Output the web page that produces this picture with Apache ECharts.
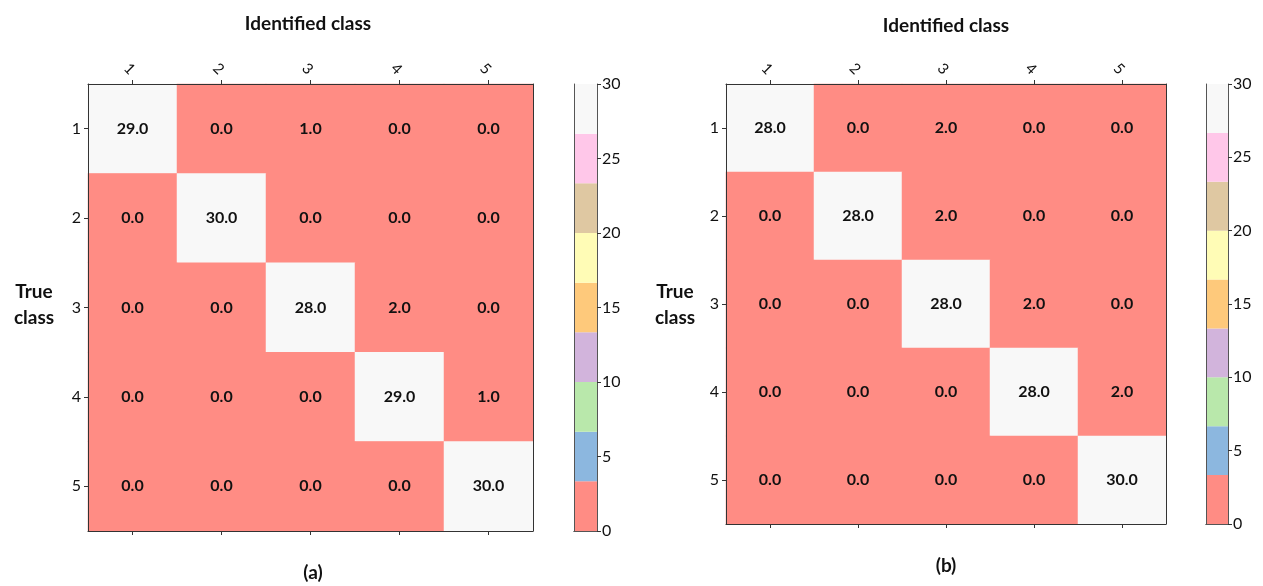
<!DOCTYPE html>
<html>
<head>
<meta charset="utf-8">
<script src="https://cdn.jsdelivr.net/npm/echarts@6/dist/echarts.min.js"></script>
<style>html,body{margin:0;padding:0;background:#fff}#c{width:1263px;height:586px}</style>
</head>
<body>
<div id="c"></div>
<script>
const categories = ['1', '2', '3', '4', '5'];
const matrixA = [
  [29, 0, 1, 0, 0],
  [0, 30, 0, 0, 0],
  [0, 0, 28, 2, 0],
  [0, 0, 0, 29, 1],
  [0, 0, 0, 0, 30]
];
const matrixB = [
  [28, 0, 2, 0, 0],
  [0, 28, 2, 0, 0],
  [0, 0, 28, 2, 0],
  [0, 0, 0, 28, 2],
  [0, 0, 0, 0, 30]
];
const colorMin = 0;
const colorMax = 30;
const colorbarTicks = [0, 5, 10, 15, 20, 25, 30];
const paletteColors = ['#ff8c84', '#8cb7df', '#b9e8ab', '#d2b4dc', '#fec97b', '#fffcb6', '#dfc8a2', '#ffc7e9', '#f8f8f8'];
const axisTitleX = 'Identified class';
const axisTitleY = ['True', 'class'];
const panelLabels = ['(a)', '(b)'];

const FONT = 'Lato, "Open Sans", sans-serif';
const step = (colorMax - colorMin) / paletteColors.length;
const pieces = paletteColors.map((c, i) => {
  const p = { gte: colorMin + i * step, color: c };
  if (i < paletteColors.length - 1) p.lt = colorMin + (i + 1) * step; else p.lte = colorMax;
  return p;
});

function toCells(m) {
  const out = [];
  m.forEach((row, r) => row.forEach((v, c) => out.push([c, r, v])));
  return out;
}

const panels = [
  { grid: { left: 88, top: 84, width: 445, height: 447 }, cb: { left: 574, top: 84, width: 23, height: 447 }, data: matrixA, cx: 308, cy: 24, tx: 34, labX: 313, labY: 573 },
  { grid: { left: 726, top: 84, width: 440, height: 440 }, cb: { left: 1206, top: 84, width: 22, height: 440 }, data: matrixB, cx: 946, cy: 26, tx: 675, labX: 946, labY: 566 }
];

const grids = [], xAxes = [], yAxes = [], series = [], graphics = [], heatIdx = [];
const lineStyle = { color: '#333', width: 1 };

panels.forEach((p, pi) => {
  const g = grids.length;
  grids.push(Object.assign({ show: true, backgroundColor: paletteColors[0], borderWidth: 0 }, p.grid));
  const xTop = xAxes.length;
  xAxes.push({ type: 'category', gridIndex: g, data: categories, position: 'top', z: 5,
    axisLine: { show: true, lineStyle }, axisTick: { show: true, alignWithLabel: true, length: 4, lineStyle },
    axisLabel: { rotate: 45, margin: 12, fontSize: 15, color: '#111', fontFamily: FONT }, splitLine: { show: false } });
  xAxes.push({ type: 'category', gridIndex: g, data: categories, position: 'bottom', z: 5,
    axisLine: { show: true, lineStyle }, axisTick: { show: true, alignWithLabel: true, length: 4, lineStyle },
    axisLabel: { show: false }, splitLine: { show: false } });
  const yL = yAxes.length;
  yAxes.push({ type: 'category', gridIndex: g, data: categories, inverse: true, position: 'left', z: 5,
    axisLine: { show: true, lineStyle }, axisTick: { show: true, alignWithLabel: true, length: 4, lineStyle },
    axisLabel: { margin: 7, fontSize: 16, color: '#111', fontFamily: FONT }, splitLine: { show: false } });
  yAxes.push({ type: 'category', gridIndex: g, data: categories, inverse: true, position: 'right', z: 5,
    axisLine: { show: true, lineStyle }, axisTick: { show: false }, axisLabel: { show: false }, splitLine: { show: false } });
  heatIdx.push(series.length);
  series.push({ type: 'heatmap', xAxisIndex: xTop, yAxisIndex: yL, data: toCells(p.data),
    label: { show: true, formatter: (d) => d.value[2].toFixed(1), fontSize: 16, fontWeight: 'bold', color: '#111', fontFamily: FONT },
    itemStyle: { borderWidth: 0 }, emphasis: { disabled: true } });

  // colorbar
  const cg = grids.length;
  grids.push(Object.assign({}, p.cb));
  const cx = xAxes.length;
  xAxes.push({ type: 'category', gridIndex: cg, data: ['cb'], position: 'bottom', z: 5,
    axisLine: { show: true, lineStyle: { color: '#555', width: 1 } }, axisTick: { show: false }, axisLabel: { show: false } });
  xAxes.push({ type: 'category', gridIndex: cg, data: ['cb'], position: 'top', z: 5,
    axisLine: { show: true, lineStyle: { color: '#555', width: 1 } }, axisTick: { show: false }, axisLabel: { show: false } });
  const cy = yAxes.length;
  yAxes.push({ type: 'value', gridIndex: cg, min: colorMin, max: colorMax, interval: 5, position: 'right', z: 5,
    axisLine: { show: true, lineStyle: { color: '#555', width: 1 } }, axisTick: { show: true, length: 4, lineStyle },
    axisLabel: { margin: 5, fontSize: 16, color: '#111', fontFamily: FONT, formatter: (v) => colorbarTicks.indexOf(v) >= 0 ? String(v) : '' },
    splitLine: { show: false } });
  yAxes.push({ type: 'value', gridIndex: cg, min: colorMin, max: colorMax, position: 'left', z: 5,
    axisLine: { show: true, lineStyle: { color: '#555', width: 1 } }, axisTick: { show: false }, axisLabel: { show: false }, splitLine: { show: false } });
  paletteColors.forEach((c) => {
    series.push({ type: 'bar', xAxisIndex: cx, yAxisIndex: cy, stack: 'cb' + pi, data: [step],
      barWidth: '100%', itemStyle: { color: c }, emphasis: { disabled: true }, silent: true });
  });

  graphics.push({ type: 'text', x: p.cx, y: p.cy, style: { text: axisTitleX, textAlign: 'center', textVerticalAlign: 'middle', font: 'bold 19px ' + FONT, fill: '#111' } });
  graphics.push({ type: 'text', x: p.tx, y: 305, style: { text: axisTitleY.join('\n'), textAlign: 'center', textVerticalAlign: 'middle', font: 'bold 19px ' + FONT, lineHeight: 26, fill: '#111' } });
  graphics.push({ type: 'text', x: p.labX, y: p.labY, style: { text: panelLabels[pi], textAlign: 'center', textVerticalAlign: 'middle', font: 'bold 19px ' + FONT, fill: '#111' } });
});

const chart = echarts.init(document.getElementById('c'));
chart.setOption({
  animation: false,
  backgroundColor: '#fff',
  grid: grids,
  xAxis: xAxes,
  yAxis: yAxes,
  visualMap: { type: 'piecewise', show: false, seriesIndex: heatIdx, dimension: 2, pieces: pieces },
  series: series,
  graphic: graphics
});
</script>
</body>
</html>
